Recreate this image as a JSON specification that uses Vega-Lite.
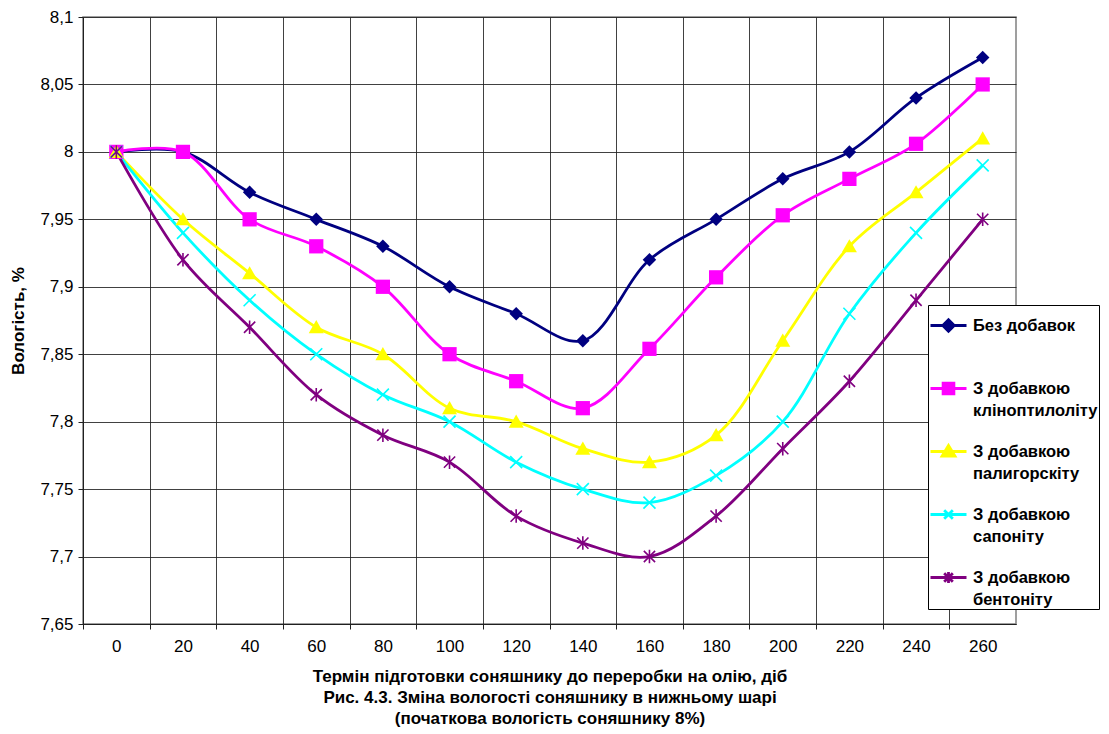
{
  "$schema": "https://vega.github.io/schema/vega-lite/v6.json",
  "width": 933,
  "height": 607,
  "autosize": {"type": "none"},
  "padding": {"left": 83, "top": 17, "right": 93, "bottom": 110},
  "background": "white",
  "config": {
    "font": "Liberation Sans",
    "view": {"stroke": "#808080", "strokeWidth": 1.5},
    "style": {"guide-label": {"lineHeight": 22}},
    "axis": {
      "labelFont": "Liberation Sans",
      "titleFont": "Liberation Sans",
      "labelColor": "black",
      "titleColor": "black",
      "domainColor": "#202020",
      "tickColor": "#202020",
      "gridColor": "#202020",
      "gridOpacity": 0.85
    }
  },
  "data": {
    "values": [
      {"day": 0, "series": "Без добавок", "value": 8.00},
      {"day": 20, "series": "Без добавок", "value": 8.00},
      {"day": 40, "series": "Без добавок", "value": 7.97},
      {"day": 60, "series": "Без добавок", "value": 7.95},
      {"day": 80, "series": "Без добавок", "value": 7.93},
      {"day": 100, "series": "Без добавок", "value": 7.90},
      {"day": 120, "series": "Без добавок", "value": 7.88},
      {"day": 140, "series": "Без добавок", "value": 7.86},
      {"day": 160, "series": "Без добавок", "value": 7.92},
      {"day": 180, "series": "Без добавок", "value": 7.95},
      {"day": 200, "series": "Без добавок", "value": 7.98},
      {"day": 220, "series": "Без добавок", "value": 8.00},
      {"day": 240, "series": "Без добавок", "value": 8.04},
      {"day": 260, "series": "Без добавок", "value": 8.07},

      {"day": 0, "series": "З добавкою кліноптилоліту", "value": 8.00},
      {"day": 20, "series": "З добавкою кліноптилоліту", "value": 8.00},
      {"day": 40, "series": "З добавкою кліноптилоліту", "value": 7.95},
      {"day": 60, "series": "З добавкою кліноптилоліту", "value": 7.93},
      {"day": 80, "series": "З добавкою кліноптилоліту", "value": 7.90},
      {"day": 100, "series": "З добавкою кліноптилоліту", "value": 7.85},
      {"day": 120, "series": "З добавкою кліноптилоліту", "value": 7.83},
      {"day": 140, "series": "З добавкою кліноптилоліту", "value": 7.81},
      {"day": 160, "series": "З добавкою кліноптилоліту", "value": 7.854},
      {"day": 180, "series": "З добавкою кліноптилоліту", "value": 7.907},
      {"day": 200, "series": "З добавкою кліноптилоліту", "value": 7.953},
      {"day": 220, "series": "З добавкою кліноптилоліту", "value": 7.98},
      {"day": 240, "series": "З добавкою кліноптилоліту", "value": 8.006},
      {"day": 260, "series": "З добавкою кліноптилоліту", "value": 8.05},

      {"day": 0, "series": "З добавкою палигорскіту", "value": 8.00},
      {"day": 20, "series": "З добавкою палигорскіту", "value": 7.95},
      {"day": 40, "series": "З добавкою палигорскіту", "value": 7.91},
      {"day": 60, "series": "З добавкою палигорскіту", "value": 7.87},
      {"day": 80, "series": "З добавкою палигорскіту", "value": 7.85},
      {"day": 100, "series": "З добавкою палигорскіту", "value": 7.81},
      {"day": 120, "series": "З добавкою палигорскіту", "value": 7.80},
      {"day": 140, "series": "З добавкою палигорскіту", "value": 7.78},
      {"day": 160, "series": "З добавкою палигорскіту", "value": 7.77},
      {"day": 180, "series": "З добавкою палигорскіту", "value": 7.79},
      {"day": 200, "series": "З добавкою палигорскіту", "value": 7.86},
      {"day": 220, "series": "З добавкою палигорскіту", "value": 7.93},
      {"day": 240, "series": "З добавкою палигорскіту", "value": 7.97},
      {"day": 260, "series": "З добавкою палигорскіту", "value": 8.01},

      {"day": 0, "series": "З добавкою сапоніту", "value": 8.00},
      {"day": 20, "series": "З добавкою сапоніту", "value": 7.94},
      {"day": 40, "series": "З добавкою сапоніту", "value": 7.89},
      {"day": 60, "series": "З добавкою сапоніту", "value": 7.85},
      {"day": 80, "series": "З добавкою сапоніту", "value": 7.82},
      {"day": 100, "series": "З добавкою сапоніту", "value": 7.80},
      {"day": 120, "series": "З добавкою сапоніту", "value": 7.77},
      {"day": 140, "series": "З добавкою сапоніту", "value": 7.75},
      {"day": 160, "series": "З добавкою сапоніту", "value": 7.74},
      {"day": 180, "series": "З добавкою сапоніту", "value": 7.76},
      {"day": 200, "series": "З добавкою сапоніту", "value": 7.80},
      {"day": 220, "series": "З добавкою сапоніту", "value": 7.88},
      {"day": 240, "series": "З добавкою сапоніту", "value": 7.94},
      {"day": 260, "series": "З добавкою сапоніту", "value": 7.99},

      {"day": 0, "series": "З добавкою бентоніту", "value": 8.00},
      {"day": 20, "series": "З добавкою бентоніту", "value": 7.92},
      {"day": 40, "series": "З добавкою бентоніту", "value": 7.87},
      {"day": 60, "series": "З добавкою бентоніту", "value": 7.82},
      {"day": 80, "series": "З добавкою бентоніту", "value": 7.79},
      {"day": 100, "series": "З добавкою бентоніту", "value": 7.77},
      {"day": 120, "series": "З добавкою бентоніту", "value": 7.73},
      {"day": 140, "series": "З добавкою бентоніту", "value": 7.71},
      {"day": 160, "series": "З добавкою бентоніту", "value": 7.70},
      {"day": 180, "series": "З добавкою бентоніту", "value": 7.73},
      {"day": 200, "series": "З добавкою бентоніту", "value": 7.78},
      {"day": 220, "series": "З добавкою бентоніту", "value": 7.83},
      {"day": 240, "series": "З добавкою бентоніту", "value": 7.89},
      {"day": 260, "series": "З добавкою бентоніту", "value": 7.95}
    ]
  },
  "encoding": {
    "x": {
      "field": "day",
      "type": "quantitative",
      "scale": {"domain": [-10, 270], "nice": false, "zero": false},
      "axis": {
        "values": [0, 20, 40, 60, 80, 100, 120, 140, 160, 180, 200, 220, 240, 260, 280],
        "tickOffset": -33.32,
        "labelOffset": 33.32,
        "labelExpr": "datum.value > 270 ? '' : datum.label",
        "labelFontSize": 17,
        "labelPadding": 9,
        "labelFlush": false,
        "labelOverlap": false,
        "tickSize": 5,
        "grid": true,
        "title": ["Термін підготовки соняшнику до переробки на олію, діб", "Рис. 4.3. Зміна вологості соняшнику в нижньому шарі", "(початкова вологість соняшнику 8%)"],
        "titleFontSize": 17,
        "titleFontWeight": "bold",
        "titleLineHeight": 21,
        "titlePadding": 14
      }
    },
    "y": {
      "field": "value",
      "type": "quantitative",
      "scale": {"domain": [7.65, 8.1], "nice": false, "zero": false},
      "axis": {
        "values": [7.65, 7.7, 7.75, 7.8, 7.85, 7.9, 7.95, 8.0, 8.05, 8.1],
        "labelExpr": "replace(format(datum.value, '.2~f'), '.', ',')",
        "labelFontSize": 17,
        "labelPadding": 5,
        "labelFlush": false,
        "tickSize": 5,
        "grid": true,
        "title": "Вологість, %",
        "titleFontSize": 17,
        "titleFontWeight": "bold",
        "titlePadding": 12
      }
    },
    "color": {
      "field": "series",
      "type": "nominal",
      "scale": {
        "domain": ["Без добавок", "З добавкою кліноптилоліту", "З добавкою палигорскіту", "З добавкою сапоніту", "З добавкою бентоніту"],
        "range": ["#000080", "#FF00FF", "#FFFF00", "#00FFFF", "#800080"]
      },
      "legend": {
        "orient": "none", "legendX": 845, "legendY": 288, "title": null,
        "strokeColor": "black", "fillColor": "white", "padding": 1,
        "labelFont": "Liberation Sans", "labelFontSize": 16.5, "labelFontWeight": "bold", "labelColor": "black",
        "labelBaseline": "middle", "labelLimit": 200, "labelOffset": 5,
        "labelExpr": "datum.label == 'Без добавок' ? ['Без добавок', ''] : ['З добавкою', slice(datum.label, 11)]",
        "symbolSize": 1296, "symbolStrokeWidth": 2.8, "symbolOpacity": 1, "rowPadding": 13
      }
    }
  },
  "layer": [
    {
      "mark": {"type": "line", "interpolate": "catmull-rom", "strokeWidth": 2.8}
    },
    {
      "transform": [{"filter": "datum.series == 'Без добавок'"}],
      "mark": {"type": "point", "filled": true, "opacity": 1, "size": 225, "shape": "M0,-0.9L0.9,0L0,0.9L-0.9,0Z"}
    },
    {
      "transform": [{"filter": "datum.series == 'З добавкою кліноптилоліту'"}],
      "mark": {"type": "point", "filled": true, "opacity": 1, "size": 225, "shape": "M-0.95,-0.95H0.95V0.95H-0.95Z"}
    },
    {
      "transform": [{"filter": "datum.series == 'З добавкою палигорскіту'"}],
      "mark": {"type": "point", "filled": true, "opacity": 1, "size": 225, "shape": "M0,-0.95L1,0.8L-1,0.8Z"}
    },
    {
      "transform": [{"filter": "datum.series == 'З добавкою сапоніту'"}],
      "mark": {"type": "point", "filled": false, "opacity": 1, "size": 225, "strokeWidth": 1.6, "shape": "M-0.8,-0.8L0.8,0.8M-0.8,0.8L0.8,-0.8"}
    },
    {
      "transform": [{"filter": "datum.series == 'З добавкою бентоніту'"}],
      "mark": {"type": "point", "filled": false, "opacity": 1, "size": 225, "strokeWidth": 1.6, "shape": "M-0.75,-0.75L0.75,0.75M-0.75,0.75L0.75,-0.75M0,-0.9L0,0.9"}
    },
    {
      "mark": {"type": "point", "filled": true, "opacity": 0, "size": 1},
      "encoding": {
        "stroke": {
          "field": "series",
          "type": "nominal",
          "scale": {
            "domain": ["Без добавок", "З добавкою кліноптилоліту", "З добавкою палигорскіту", "З добавкою сапоніту", "З добавкою бентоніту"],
            "range": ["#000080", "#FF00FF", "#FFFF00", "#00FFFF", "#800080"]
          },
          "legend": {
            "orient": "none", "legendX": 845, "legendY": 288, "title": null,
            "strokeColor": "black", "fillColor": "white", "padding": 1,
            "labelFont": "Liberation Sans", "labelFontSize": 16.5, "labelFontWeight": "bold", "labelColor": "black",
            "labelBaseline": "middle", "labelLimit": 200, "labelOffset": 5,
            "labelExpr": "datum.label == 'Без добавок' ? ['Без добавок', ''] : ['З добавкою', slice(datum.label, 11)]",
            "symbolSize": 1296, "symbolStrokeWidth": 2.8, "symbolOpacity": 1, "rowPadding": 13
          }
        },
        "shape": {
          "field": "series",
          "type": "nominal",
          "scale": {
            "domain": ["Без добавок", "З добавкою кліноптилоліту", "З добавкою палигорскіту", "З добавкою сапоніту", "З добавкою бентоніту"],
            "range": [
              "M-1,0H1M0,-0.32L0.32,0L0,0.32L-0.32,0Z",
              "M-1,0H1M-0.3,-0.3H0.3V0.3H-0.3Z",
              "M-1,0H1M0,-0.34L0.36,0.26L-0.36,0.26Z",
              "M-1,0H1M-0.24,-0.24L0.24,0.24M-0.24,0.24L0.24,-0.24",
              "M-1,0H1M-0.24,-0.24L0.24,0.24M-0.24,0.24L0.24,-0.24M0,-0.3L0,0.3"
            ]
          },
          "legend": {
            "orient": "none", "legendX": 845, "legendY": 288, "title": null,
            "strokeColor": "black", "fillColor": "white", "padding": 1,
            "labelFont": "Liberation Sans", "labelFontSize": 16.5, "labelFontWeight": "bold", "labelColor": "black",
            "labelBaseline": "middle", "labelLimit": 200, "labelOffset": 5,
            "labelExpr": "datum.label == 'Без добавок' ? ['Без добавок', ''] : ['З добавкою', slice(datum.label, 11)]",
            "symbolSize": 1296, "symbolStrokeWidth": 2.8, "symbolOpacity": 1, "rowPadding": 13
          }
        }
      }
    }
  ]
}
